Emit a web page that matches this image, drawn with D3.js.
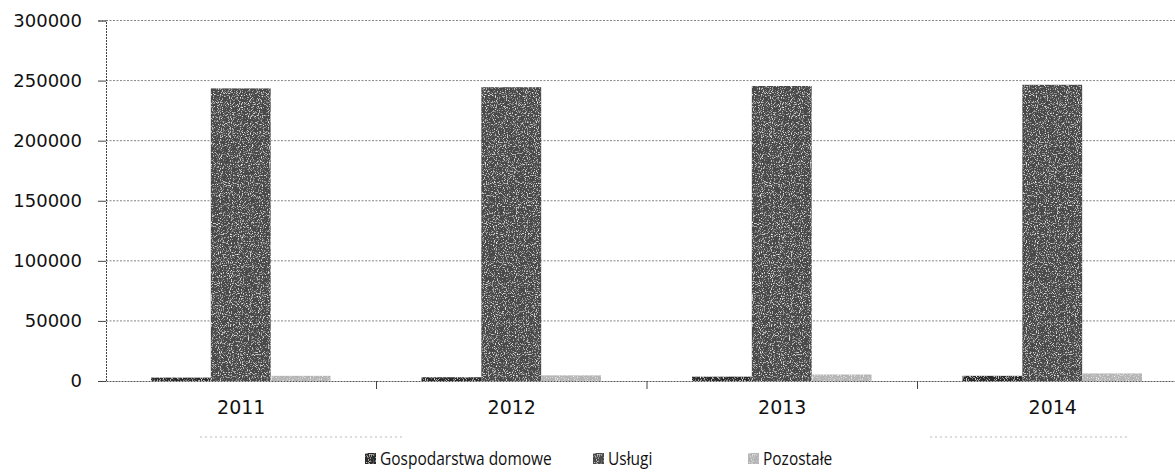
<!DOCTYPE html>
<html><head><meta charset="utf-8">
<script src="https://cdn.jsdelivr.net/npm/d3@7"></script>
<style>body{margin:0;background:#fff}svg{display:block}</style>
</head><body>
<script>
const categories = ["2011", "2012", "2013", "2014"];
const seriesNames = ["Gospodarstwa domowe", "Usługi", "Pozostałe"];
const gospodarstwa = [2800, 3100, 3600, 4300];
const uslugi = [243500, 244500, 245500, 246500];
const pozostale = [4300, 4700, 5400, 6300];
const yTicks = [0, 50000, 100000, 150000, 200000, 250000, 300000];
const colors = ["#2a2a2a", "#4a4a4a", "#b5b5b5"];

const W = 1175, H = 472;
const svg = d3.select("body").append("svg").attr("width", W).attr("height", H);
const defs = svg.append("defs");
const f = defs.append("filter").attr("id", "grain").attr("x", 0).attr("y", 0).attr("width", 1).attr("height", 1);
f.append("feTurbulence").attr("type", "fractalNoise").attr("baseFrequency", 0.9).attr("numOctaves", 2).attr("seed", 3).attr("result", "n");
f.append("feColorMatrix").attr("in", "n").attr("type", "matrix")
  .attr("values", "0 0 0 0 1  0 0 0 0 1  0 0 0 0 1  3 0 0 0 -1.6").attr("result", "a");
f.append("feComposite").attr("in", "a").attr("in2", "SourceGraphic").attr("operator", "in").attr("result", "b");
f.append("feMerge").selectAll("feMergeNode").data(["SourceGraphic", "b"]).join("feMergeNode").attr("in", d => d);

const x0 = 106, bandW = 270.5;
const x = d3.scaleBand().domain(categories).range([x0, x0 + bandW * 4]).paddingInner(0).paddingOuter(0);
const xs = d3.scaleBand().domain(seriesNames).range([45, bandW - 46]).paddingInner(0).paddingOuter(0);
const y = d3.scaleLinear().domain([0, 300000]).range([381, 20.5]);

// gridlines
svg.append("g").selectAll("line").data(yTicks.filter(d => d > 0)).join("line")
  .attr("x1", x0).attr("x2", W).attr("y1", d => y(d)).attr("y2", d => y(d))
  .attr("stroke", "#666").attr("stroke-width", 1).attr("stroke-dasharray", "2,1.5").attr("opacity", 0.8);

// y axis
const ya = svg.append("g").attr("transform", `translate(${x0},0)`)
  .call(d3.axisLeft(y).tickValues(yTicks).tickFormat(d3.format("d")).tickSize(8).tickPadding(16));
ya.select(".domain").attr("stroke", "#444").attr("stroke-dasharray", "2,1");
ya.selectAll(".tick line").attr("stroke", "#444");
ya.selectAll("text").attr("font-family", "DejaVu Sans").attr("font-size", 18).attr("fill", "#111");

// bars
const data = categories.map((c, i) => ({ c, vals: [gospodarstwa[i], uslugi[i], pozostale[i]] }));
const g = svg.append("g").selectAll("g").data(data).join("g").attr("transform", d => `translate(${x(d.c)},0)`);
g.selectAll("rect").data(d => d.vals.map((v, j) => ({ v, s: seriesNames[j], j }))).join("rect")
  .attr("x", d => xs(d.s)).attr("width", xs.bandwidth())
  .attr("y", d => y(d.v)).attr("height", d => y(0) - y(d.v))
  .attr("fill", d => colors[d.j]).attr("filter", "url(#grain)");

// x axis
const xa = svg.append("g").attr("transform", `translate(0,${y(0)})`)
  .call(d3.axisBottom(x).tickSize(0).tickPadding(20));
xa.select(".domain").attr("stroke", "#555").attr("stroke-dasharray", "2,1");
xa.selectAll("text").attr("font-family", "DejaVu Sans").attr("font-size", 19).attr("fill", "#111");
svg.append("g").selectAll("line").data(categories.slice(1)).join("line")
  .attr("x1", d => x(d)).attr("x2", d => x(d)).attr("y1", y(0)).attr("y2", y(0) + 8)
  .attr("stroke", "#444");

// faint scan lines
svg.append("g").selectAll("line").data([[200, 405], [930, 1130]]).join("line")
  .attr("x1", d => d[0]).attr("x2", d => d[1]).attr("y1", 437).attr("y2", 437)
  .attr("stroke", "#bbb").attr("stroke-dasharray", "2,3");

// legend
const legX = [365, 593, 748];
const lg = svg.append("g").selectAll("g").data(seriesNames).join("g")
  .attr("transform", (d, i) => `translate(${legX[i]},0)`);
lg.append("rect").attr("x", 0).attr("y", 453).attr("width", 11).attr("height", 11)
  .attr("fill", (d, i) => colors[i]).attr("filter", "url(#grain)");
lg.append("text").attr("x", 15).attr("y", 465).text(d => d)
  .attr("font-family", "Open Sans").attr("font-size", 18).attr("fill", "#111")
  .each(function () {
    const w = this.getComputedTextLength();
    d3.select(this).attr("textLength", w * 0.86).attr("lengthAdjust", "spacingAndGlyphs");
  });
</script>
</body></html>
